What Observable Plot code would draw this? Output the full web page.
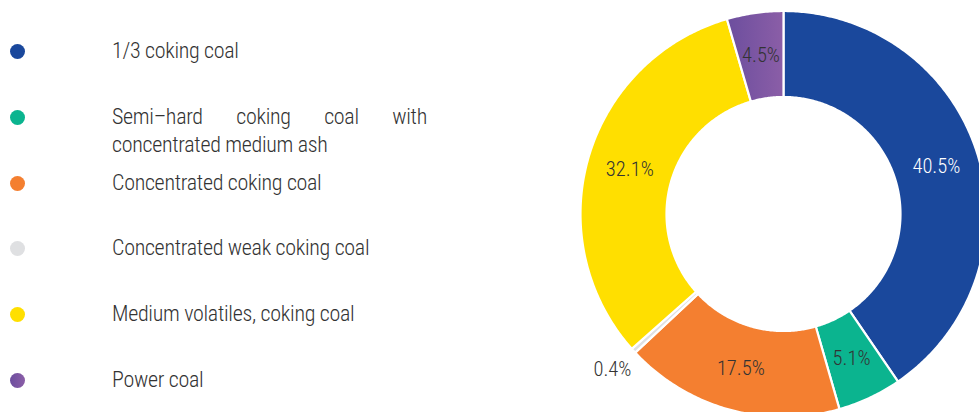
<!DOCTYPE html>
<html><head><meta charset="utf-8">
<script src="https://cdn.jsdelivr.net/npm/d3@7"></script>
<script src="https://cdn.jsdelivr.net/npm/@observablehq/plot@0.6"></script>
<style>
html,body{margin:0;padding:0;background:#fff;}
#wrap{position:relative;width:979px;height:412px;overflow:hidden;}
#chart{position:absolute;left:0;top:0;}
#legend{position:absolute;left:0;top:0;width:460px;height:412px;}
.dot{position:absolute;left:10px;width:15px;height:15px;border-radius:50%;}
.lab{position:absolute;left:112px;width:315px;font-family:"Roboto Condensed","Liberation Sans Narrow","Arial Narrow","DejaVu Sans Condensed",sans-serif;font-stretch:condensed;font-weight:300;font-size:22px;line-height:28px;letter-spacing:-0.3px;color:#333;}
.lab div{white-space:nowrap;}
.lab div.just{text-align:justify;text-align-last:justify;white-space:normal;}
</style></head>
<body><div id="wrap"><div id="chart"></div><div id="legend"></div></div>
<script>
// ---- data ----
const categories = ["1/3 coking coal", "Semi–hard coking coal with concentrated medium ash", "Concentrated coking coal", "Concentrated weak coking coal", "Medium volatiles, coking coal", "Power coal"];
const legendLines = [["1/3 coking coal"], ["Semi–hard coking coal with", "concentrated medium ash"], ["Concentrated coking coal"], ["Concentrated weak coking coal"], ["Medium volatiles, coking coal"], ["Power coal"]];
const shares = [40.5, 5.1, 17.5, 0.4, 32.1, 4.5];
const valueLabels = ["40.5%", "5.1%", "17.5%", "0.4%", "32.1%", "4.5%"];
const colors = ["#1a489c", "#0bb48f", "#f47f30", "#dfe0e2", "#ffdf00", "#7852a3"];
const labelColors = ["#ffffff", "#333333", "#333333", "#333333", "#333333", "#333333"];

// ---- layout ----
const W = 979, H = 412;
const cx = 783, cy = 213.5, R = 203, rInner = 117 / 203;
const FONT = '"Roboto Condensed","Liberation Sans Narrow","Arial Narrow","DejaVu Sans Condensed",sans-serif';

const arcs = d3.pie().sort(null).value(d => d)(shares);
const poly = [];
const labelRows = [];
arcs.forEach((p, i) => {
  const n = Math.max(2, Math.ceil((p.endAngle - p.startAngle) / 0.01));
  const pts = [];
  for (let k = 0; k <= n; k++) { const a = p.startAngle + (p.endAngle - p.startAngle) * k / n; pts.push([Math.sin(a), -Math.cos(a)]); }
  for (let k = n; k >= 0; k--) { const a = p.startAngle + (p.endAngle - p.startAngle) * k / n; pts.push([rInner * Math.sin(a), -rInner * Math.cos(a)]); }
  pts.push(pts[0]);
  const fill = i === 5 ? "url(#purpleGrad)" : colors[i];
  pts.forEach(([x, y]) => poly.push({cat: categories[i], x, y, fill}));
  const mid = (p.startAngle + p.endAngle) / 2;
  const r = shares[i] < 1 ? 1.14 : (1 + rInner) / 2;
  labelRows.push({x: r * Math.sin(mid), y: -r * Math.cos(mid), text: valueLabels[i], color: labelColors[i]});
});

const svg = Plot.plot({
  width: W, height: H, margin: 0,
  x: {domain: [(0 - cx) / R, (W - cx) / R], range: [0, W], axis: null},
  y: {domain: [(0 - cy) / R, (H - cy) / R], range: [0, H], axis: null},
  color: {type: "identity"},
  style: {fontFamily: FONT, background: "transparent", overflow: "hidden"},
  marks: [
    Plot.line(poly, {x: "x", y: "y", z: "cat", fill: "fill", stroke: "white", strokeWidth: 2.2, curve: "linear"}),
    Plot.text(labelRows, {x: "x", y: "y", text: "text", fill: "color", fontSize: 20.5, fontWeight: 300, fontStretch: "condensed"})
  ]
});
const defs = d3.select(svg).insert("defs", ":first-child");
const grad = defs.append("linearGradient").attr("id", "purpleGrad").attr("x1", 0).attr("x2", 1).attr("y1", 0).attr("y2", 0);
grad.append("stop").attr("offset", "0%").attr("stop-color", "#6c4e9e");
grad.append("stop").attr("offset", "100%").attr("stop-color", "#8b5ea7");
document.getElementById("chart").appendChild(svg);

// ---- legend ----
const dotY = [51, 117, 183, 248, 314, 380];
const leg = d3.select("#legend");
legendLines.forEach((lines, i) => {
  leg.append("div").attr("class", "dot").style("top", (dotY[i] - 7.5) + "px").style("background", i === 5 ? "linear-gradient(90deg,#6c4e9e,#8b5ea7)" : colors[i]);
  const lab = leg.append("div").attr("class", "lab").style("top", (dotY[i] - 14) + "px");
  lines.forEach((t, j) => lab.append("div").attr("class", j < lines.length - 1 ? "just" : null).text(t));
});
</script></body></html>
